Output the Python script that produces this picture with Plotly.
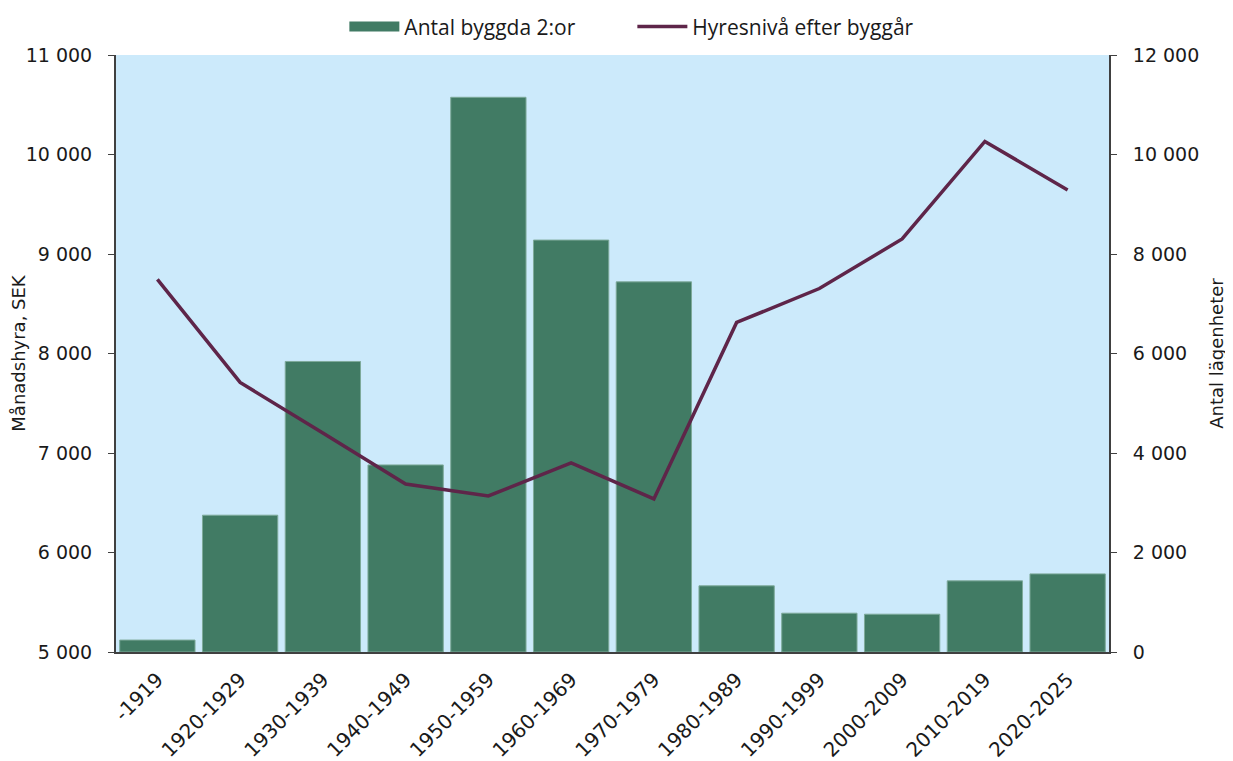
import plotly.graph_objects as go

# Byggår-perioder
perioder = ["-1919", "1920-1929", "1930-1939", "1940-1949", "1950-1959", "1960-1969",
            "1970-1979", "1980-1989", "1990-1999", "2000-2009", "2010-2019", "2020-2025"]

# Antal byggda 2:or (höger axel)
antal_byggda = [240, 2750, 5840, 3760, 11150, 8280, 7440, 1330, 780, 760, 1430, 1570]

# Hyresnivå efter byggår, SEK/månad (vänster axel)
hyresniva = [8744, 7709, 7200, 6688, 6568, 6900, 6538, 8312, 8653, 9151, 10131, 9643]

bar_color = "#417b64"
line_color = "#5e2549"
ytick_font = dict(family="DejaVu Sans", size=19, color="#1a1a1a")
xtick_font = dict(family="DejaVu Sans", size=20, color="#1a1a1a")
title_font = dict(family="DejaVu Sans", size=18, color="#1a1a1a")

fig = go.Figure()

# Staplar på primär axel (ritas under linjen), axeln placeras till höger
fig.add_trace(go.Bar(
    x=perioder, y=antal_byggda, name="Antal byggda 2:or",
    marker=dict(color=bar_color, line=dict(color="#7eaa9a", width=1)),
    yaxis="y", legendgroup="bar", showlegend=False,
))
# Legendpost för staplarna (bred rektangel som i originalet)
fig.add_trace(go.Scatter(
    x=[None], y=[None], name="Antal byggda 2:or", mode="lines",
    line=dict(color=bar_color, width=14), legendgroup="bar",
    yaxis="y", hoverinfo="skip",
))

# Linje på sekundär axel, placeras till vänster
fig.add_trace(go.Scatter(
    x=perioder, y=hyresniva, name="Hyresnivå efter byggår",
    mode="lines", line=dict(color=line_color, width=3.5),
    yaxis="y2",
))

# Sidan får 8 px marginal i webbläsaren, därför 1225x753
fig.update_layout(
    width=1225, height=753,
    margin=dict(l=108, r=124, t=47, b=109, autoexpand=False),
    plot_bgcolor="#cceafb",
    paper_bgcolor="white",
    separators=", ",
    bargap=0.09,
    showlegend=True,
    legend=dict(orientation="h", x=0.52, xanchor="center", y=1.047, yanchor="middle",
                font=dict(family="Open Sans", size=21, color="#1a1a1a"),
                itemwidth=50, traceorder="normal", entrywidth=223),
    xaxis=dict(
        type="category", tickangle=-45, tickfont=xtick_font,
        showline=True, linecolor="#404040", linewidth=2, ticks="",
        showgrid=False, automargin=False, ticklabelstandoff=6,
    ),
    yaxis=dict(
        side="right", range=[0, 12000], dtick=2000, tickformat=",d",
        tickfont=ytick_font, showline=True, linecolor="#404040", linewidth=2,
        ticks="outside", ticklen=6, tickcolor="#404040", showgrid=False, zeroline=False,
        automargin=False, ticklabelstandoff=12,
        title=dict(text="Antal lägenheter", font=title_font, standoff=12),
    ),
    yaxis2=dict(
        overlaying="y", side="left", range=[5000, 11000], dtick=1000, tickformat=",d",
        tickfont=ytick_font, showline=True, linecolor="#404040", linewidth=2,
        ticks="outside", ticklen=6, tickcolor="#404040", showgrid=False, zeroline=False,
        automargin=False, ticklabelstandoff=12,
        title=dict(text="Månadshyra, SEK", font=title_font, standoff=0),
    ),
)

fig.write_html("out.html")
